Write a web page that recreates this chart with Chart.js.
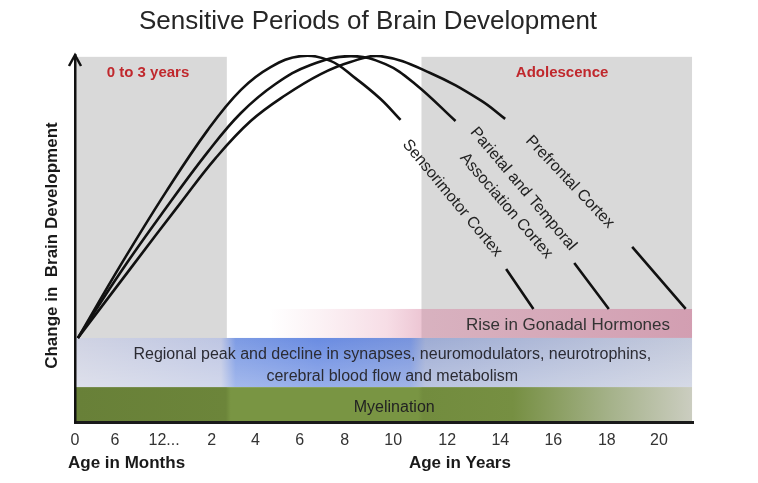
<!DOCTYPE html>
<html>
<head>
<meta charset="utf-8">
<script src="https://cdn.jsdelivr.net/npm/chart.js@4.4.1/dist/chart.umd.min.js"></script>
<style>
html,body{margin:0;padding:0;background:#fff;}
#c{display:block;width:758px;height:483px;}
</style>
</head>
<body>
<canvas id="c" width="758" height="483"></canvas>
<script>
// ---------- DATA ----------
// x positions are in "axis position" units (tick 0 ... tick 12)
const tickPos    = [0, 0.82, 1.83, 2.81, 3.71, 4.62, 5.54, 6.54, 7.65, 8.74, 9.83, 10.93, 12.0];
const tickLabels = ['0', '6', '12...', '2', '4', '6', '8', '10', '12', '14', '16', '18', '20'];

const sensorimotorX = [0.06, 0.94, 1.87, 2.73, 3.41, 4.02, 4.64, 5.25, 5.76, 6.28, 6.69, 7.80, 8.86, 9.42];
const sensorimotorY = [22.9, 42.8, 62.7, 79.6, 90.5, 96.7, 99.7, 98.4, 93.7, 88.0, 82.3, null, 41.7, 30.8];

const parietalX = [0.06, 0.94, 1.87, 2.73, 3.41, 4.12, 4.84, 5.66, 6.38, 6.99, 7.82, 9.00, 10.26, 10.97];
const parietalY = [22.9, 40.9, 58.3, 73.6, 84.2, 92.1, 97.3, 99.7, 97.5, 92.1, 82.0, null, 43.3, 30.8];

const prefrontalX = [0.06, 1.15, 2.17, 2.89, 3.61, 4.33, 5.05, 5.66, 6.28, 7.30, 8.33, 8.84, 10.0, 11.45, 12.55];
const prefrontalY = [22.9, 42.0, 59.7, 71.9, 82.0, 89.1, 94.8, 98.1, 99.7, 95.1, 87.7, 82.6, null, 47.7, 30.8];

function toPoints(xs, ys) { return xs.map((x, i) => ({ x: x, y: ys[i] })); }

// ---------- STYLE / LAYOUT ----------
const FONT = '"Liberation Sans", Arial, Helvetica, sans-serif';
Chart.defaults.font.family = FONT;

const TITLE = 'Sensitive Periods of Brain Development';

const deco = {
  grayBoxes: [{ x0: 0, x1: 3.12 }, { x0: 7.12, x1: 12.68 }],
  grayTop: 99.5,
  grayColor: '#d9d9d9',
  pink: { y0: 22.9, y1: 30.8, x0: 4.0, x1: 12.68,
    stops: [[4.0, 'rgba(235,185,200,0)'], [6.4, 'rgba(235,175,195,0.42)'], [7.1, 'rgba(215,130,160,0.45)'], [12.68, 'rgba(205,110,145,0.55)']] },
  blue: { y0: 9.5, y1: 22.9, x0: 0, x1: 12.68,
    stops: [[0, 'rgb(208,211,227)'], [3.0, 'rgb(190,198,227)'], [3.3, 'rgb(125,155,228)'], [5.0, 'rgb(106,140,226)'], [6.9, 'rgb(120,148,221)'], [7.2, 'rgb(158,172,212)'], [12.68, 'rgb(196,202,220)']] },
  green: { y0: 0, y1: 9.5, x0: 0, x1: 12.68,
    stops: [[0, 'rgb(104,128,56)'], [3.1, 'rgb(108,133,58)'], [3.2, 'rgb(121,149,67)'], [7.05, 'rgb(121,149,67)'], [7.15, 'rgb(114,140,62)'], [9.0, 'rgb(118,143,66)'], [11.0, 'rgb(165,178,138)'], [12.68, 'rgb(203,205,192)']] },
  texts: [
    { t: '0 to 3 years', x: 1.50, y: 95.1, size: 15, weight: 'bold', color: '#c0282d' },
    { t: 'Adolescence', x: 10.01, y: 95.1, size: 15, weight: 'bold', color: '#c0282d' },
    { t: 'Rise in Gonadal Hormones', x: 10.13, y: 26.4, size: 17, color: '#333' },
    { t: 'Regional peak and decline in synapses, neuromodulators, neurotrophins,', x: 6.52, y: 18.3, size: 16, color: '#2b2b33' },
    { t: 'cerebral blood flow and metabolism', x: 6.52, y: 12.5, size: 16, color: '#2b2b33' },
    { t: 'Myelination', x: 6.56, y: 3.8, size: 16, color: '#222' },
    { t: 'Sensorimotor Cortex', x: 7.75, y: 61.0, size: 16, color: '#222', rot: 50.4 },
    { t: 'Parietal and Temporal', x: 9.21, y: 63.5, size: 16, color: '#222', rot: 49.9 },
    { t: 'Association Cortex', x: 8.86, y: 58.9, size: 16, color: '#222', rot: 49.4 },
    { t: 'Prefrontal Cortex', x: 10.17, y: 65.4, size: 16, color: '#222', rot: 46.5 }
  ],
  axisTitles: [
    { t: 'Age in Months', x: 0, dx: -7, align: 'left' },
    { t: 'Age in Years', x: 7.91, dx: 0, align: 'center' }
  ]
};

function hGrad(ctx, xs, stops, px0, px1) {
  const g = ctx.createLinearGradient(px0, 0, px1, 0);
  for (const [u, c] of stops) {
    let p = (xs.getPixelForValue(u) - px0) / (px1 - px0);
    p = Math.min(1, Math.max(0, p));
    g.addColorStop(p, c);
  }
  return g;
}

const decoPlugin = {
  id: 'deco',
  beforeDraw(chart) {
    const { ctx, scales: { x, y } } = chart;
    ctx.save();
    ctx.fillStyle = '#fff';
    ctx.fillRect(0, 0, chart.width, chart.height);
    // gray period boxes
    ctx.fillStyle = deco.grayColor;
    for (const b of deco.grayBoxes) {
      const px0 = x.getPixelForValue(b.x0), px1 = x.getPixelForValue(b.x1);
      const py0 = y.getPixelForValue(deco.grayTop), py1 = y.getPixelForValue(0);
      ctx.fillRect(px0, py0, px1 - px0, py1 - py0);
    }
    // bands
    for (const key of ['pink', 'blue', 'green']) {
      const b = deco[key];
      const px0 = x.getPixelForValue(b.x0), px1 = x.getPixelForValue(b.x1);
      const py0 = y.getPixelForValue(b.y1), py1 = y.getPixelForValue(b.y0);
      ctx.fillStyle = hGrad(ctx, x, b.stops, px0, px1);
      ctx.fillRect(px0, py0, px1 - px0, py1 - py0);
      if (key === 'blue') {
        const vg = ctx.createLinearGradient(0, py0, 0, py1);
        vg.addColorStop(0, 'rgba(255,255,255,0)');
        vg.addColorStop(1, 'rgba(255,255,255,0.3)');
        ctx.fillStyle = vg;
        ctx.fillRect(px0, py0, px1 - px0, py1 - py0);
      }
    }
    // title
    ctx.font = '26px ' + FONT;
    ctx.fillStyle = '#262626';
    ctx.textAlign = 'center';
    ctx.textBaseline = 'middle';
    ctx.fillText(TITLE, 368, 22);
    ctx.restore();
  },
  afterDraw(chart) {
    const { ctx, chartArea: a, scales: { x, y } } = chart;
    ctx.save();
    ctx.textBaseline = 'middle';
    for (const t of deco.texts) {
      ctx.font = (t.weight || 'normal') + ' ' + t.size + 'px ' + FONT;
      ctx.fillStyle = t.color;
      ctx.textAlign = 'center';
      const px = x.getPixelForValue(t.x), py = y.getPixelForValue(t.y);
      ctx.save();
      ctx.translate(px, py);
      if (t.rot) ctx.rotate(t.rot * Math.PI / 180);
      ctx.fillText(t.t, 0, 0);
      ctx.restore();
    }
    // x-axis titles
    ctx.font = 'bold 17px ' + FONT;
    ctx.fillStyle = '#1a1a1a';
    for (const t of deco.axisTitles) {
      ctx.textAlign = t.align;
      ctx.fillText(t.t, x.getPixelForValue(t.x) + t.dx, a.bottom + 41);
    }
    // arrow head on y axis
    ctx.strokeStyle = '#111';
    ctx.lineWidth = 2.5;
    ctx.beginPath();
    ctx.moveTo(a.left - 6, a.top + 11);
    ctx.lineTo(a.left, a.top);
    ctx.lineTo(a.left + 6, a.top + 11);
    ctx.stroke();
    ctx.restore();
  }
};

const lineStyle = {
  borderColor: '#111',
  borderWidth: 2.6,
  pointRadius: 0,
  fill: false,
  spanGaps: false,
  tension: 0.4
};

new Chart(document.getElementById('c'), {
  type: 'line',
  data: {
    datasets: [
      Object.assign({ label: 'Sensorimotor Cortex', data: toPoints(sensorimotorX, sensorimotorY) }, lineStyle),
      Object.assign({ label: 'Parietal and Temporal Association Cortex', data: toPoints(parietalX, parietalY) }, lineStyle),
      Object.assign({ label: 'Prefrontal Cortex', data: toPoints(prefrontalX, prefrontalY) }, lineStyle)
    ]
  },
  options: {
    responsive: false,
    animation: false,
    devicePixelRatio: 1,
    layout: { padding: { left: 0, right: 65, top: 55, bottom: 0 } },
    plugins: {
      legend: { display: false },
      tooltip: { enabled: false },
      title: { display: false }
    },
    scales: {
      x: {
        type: 'linear',
        min: 0,
        max: 12.70,
        afterBuildTicks: (s) => { s.ticks = tickPos.map(v => ({ value: v })); },
        afterFit: (s) => { s.height = 61; },
        ticks: {
          autoSkip: false,
          maxRotation: 0,
          padding: 9,
          color: '#333',
          font: { size: 16 },
          callback: (v, i) => tickLabels[i]
        },
        grid: { display: false, drawTicks: false },
        border: { display: true, color: '#1a1a1a', width: 3 }
      },
      y: {
        type: 'linear',
        min: 0,
        max: 100,
        afterFit: (s) => { s.width = 75; },
        ticks: { display: false },
        grid: { display: false, drawTicks: false },
        border: { display: true, color: '#111', width: 2.5 },
        title: {
          display: true,
          text: 'Change in  Brain Development   ',
          color: '#1a1a1a',
          font: { size: 17, weight: 'bold' },
          padding: { top: 42, bottom: 0 }
        }
      }
    }
  },
  plugins: [decoPlugin]
});
</script>
</body>
</html>
